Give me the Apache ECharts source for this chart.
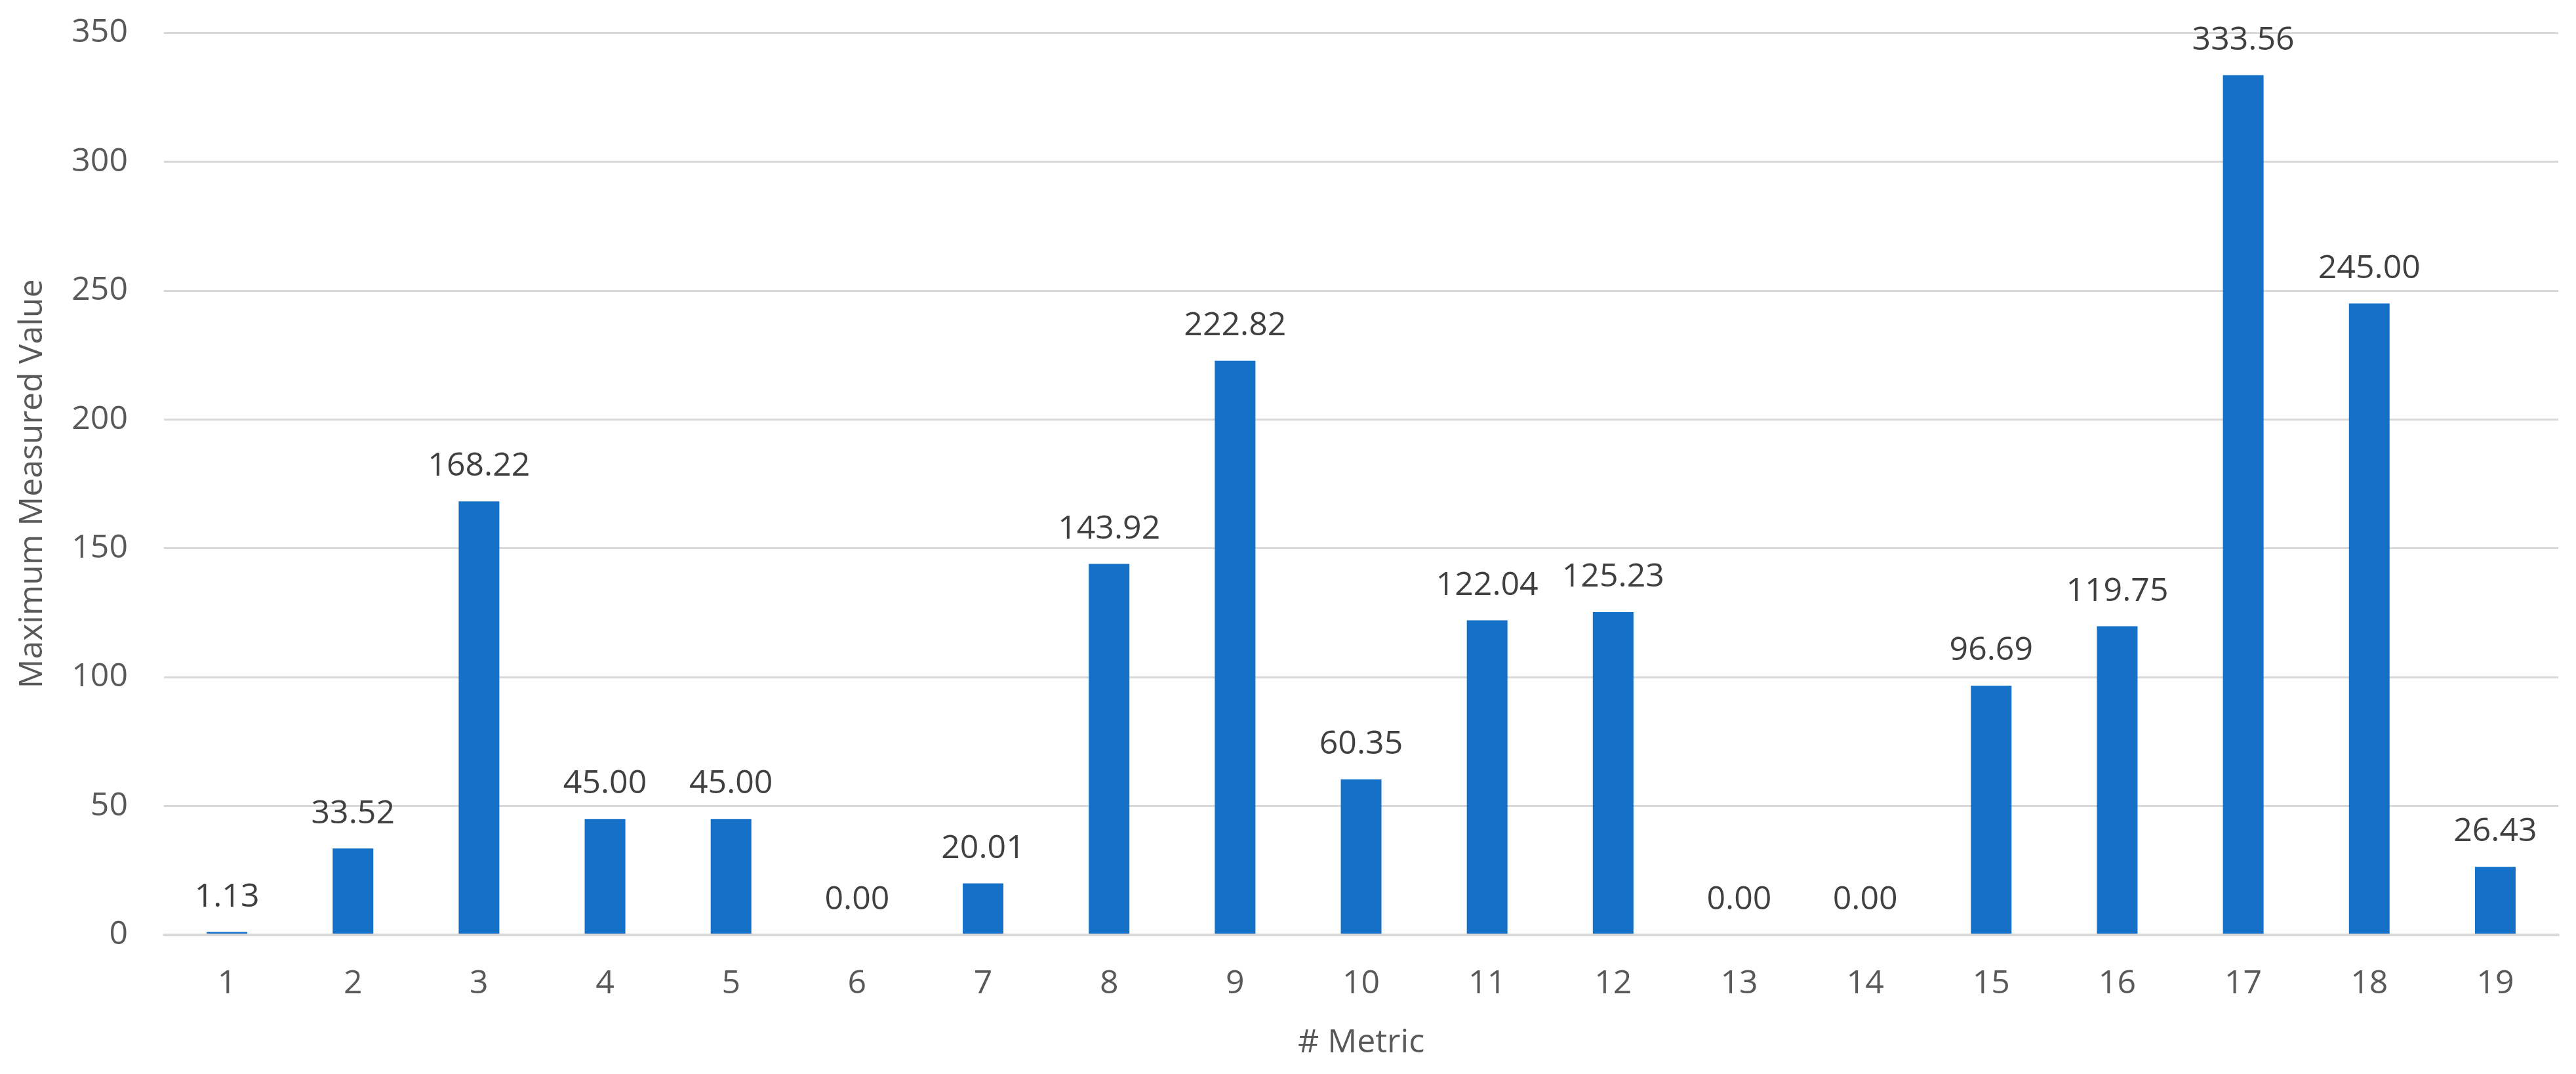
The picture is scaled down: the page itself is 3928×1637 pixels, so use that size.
<!DOCTYPE html>
<html>
<head>
<meta charset="utf-8">
<script src="https://cdn.jsdelivr.net/npm/echarts@6/dist/echarts.min.js"></script>
<style>html,body{margin:0;padding:0;background:#fff;}#c{width:3928px;height:1637px;}</style>
</head>
<body>
<div id="c"></div>
<script>
const categories = ['1','2','3','4','5','6','7','8','9','10','11','12','13','14','15','16','17','18','19'];
const values = [1.13, 33.52, 168.22, 45.00, 45.00, 0.00, 20.01, 143.92, 222.82, 60.35, 122.04, 125.23, 0.00, 0.00, 96.69, 119.75, 333.56, 245.00, 26.43];
const yTicks = [0, 50, 100, 150, 200, 250, 300, 350];
const xTitle = '# Metric';
const yTitle = 'Maximum Measured Value';

const FONT = '"Open Sans", "Noto Sans", sans-serif';
const chart = echarts.init(document.getElementById('c'), null, {renderer: 'canvas'});
chart.setOption({
  animation: false,
  backgroundColor: '#ffffff',
  grid: {left: 250, right: 27, top: 50, bottom: 212, containLabel: false},
  xAxis: {
    type: 'category',
    data: categories,
    z: 5,
    name: xTitle,
    nameLocation: 'middle',
    nameGap: 140,
    nameTextStyle: {fontFamily: FONT, fontSize: 50, color: '#595959'},
    axisLine: {show: true, lineStyle: {color: '#D9D9D9', width: 4}},
    axisTick: {show: false},
    axisLabel: {fontFamily: FONT, fontSize: 50, color: '#595959', margin: 50}
  },
  yAxis: {
    type: 'value',
    min: yTicks[0],
    max: yTicks[yTicks.length - 1],
    interval: yTicks[1] - yTicks[0],
    name: yTitle,
    nameLocation: 'middle',
    nameGap: 175,
    nameTextStyle: {fontFamily: FONT, fontSize: 50, color: '#595959'},
    axisLine: {show: false},
    axisTick: {show: false},
    axisLabel: {fontFamily: FONT, fontSize: 50, color: '#595959', margin: 55},
    splitLine: {show: true, lineStyle: {color: '#D9D9D9', width: 3}}
  },
  series: [{
    type: 'bar',
    data: values,
    barWidth: 62,
    itemStyle: {color: '#1570C8'},
    label: {
      show: true,
      position: 'top',
      distance: 28,
      fontFamily: FONT,
      fontSize: 50,
      color: '#404040',
      formatter: p => p.value.toFixed(2)
    }
  }]
});
</script>
</body>
</html>
